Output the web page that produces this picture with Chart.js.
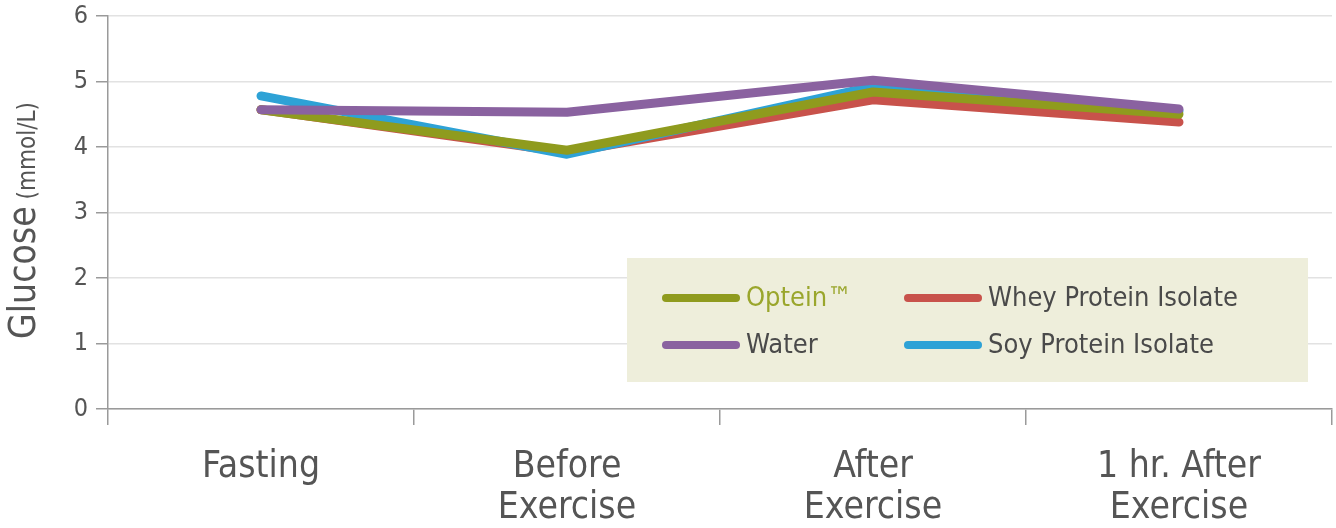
<!DOCTYPE html>
<html>
<head>
<meta charset="utf-8">
<script src="https://cdn.jsdelivr.net/npm/chart.js@4/dist/chart.umd.min.js"></script>
<style>
  html, body { margin: 0; padding: 0; background: #fff; }
  #wrap { width: 1336px; height: 528px; position: relative; }
</style>
</head>
<body>
<div id="wrap"><canvas id="c" width="1336" height="528"></canvas></div>
<script>
const categories = [["Fasting"], ["Before", "Exercise"], ["After", "Exercise"], ["1 hr. After", "Exercise"]];
const yTicks = [0, 1, 2, 3, 4, 5, 6];
const seriesNames = ["Optein\u2122", "Whey Protein Isolate", "Water", "Soy Protein Isolate"];
const optein = [4.57, 3.95, 4.84, 4.50];
const whey = [4.57, 3.92, 4.72, 4.38];
const water = [4.57, 4.53, 5.02, 4.58];
const soy = [4.78, 3.89, 4.92, 4.55];

const FONT = '"DejaVu Sans Condensed", "Liberation Sans Narrow", "Liberation Sans", sans-serif';
const colors = { optein: '#8f9b1e', whey: '#c8524b', water: '#8a62a0', soy: '#2ea2d6' };

const yTitlePlugin = {
  id: 'yTitle',
  afterDraw(chart) {
    const ctx = chart.ctx;
    ctx.save();
    ctx.translate(35, 339);
    ctx.rotate(-Math.PI / 2);
    ctx.fillStyle = '#555';
    ctx.textBaseline = 'alphabetic';
    ctx.textAlign = 'left';
    ctx.font = '37px ' + FONT;
    const t1 = 'Glucose';
    ctx.fillText(t1, 0, 0);
    const w = ctx.measureText(t1).width;
    ctx.font = '24px ' + FONT;
    ctx.fillText(' (mmol/L)', w, 0);
    ctx.restore();
  }
};

const legendPlugin = {
  id: 'boxLegend',
  afterDraw(chart) {
    const ctx = chart.ctx;
    const bx = 627, by = 258, bw = 681, bh = 124;
    ctx.save();
    ctx.fillStyle = '#eeeedb';
    ctx.fillRect(bx, by, bw, bh);
    const items = [
      { ds: 0, x: 662, y: 298, tc: '#9aa62c' },
      { ds: 1, x: 904, y: 298, tc: '#4a4a4a' },
      { ds: 2, x: 662, y: 345, tc: '#4a4a4a' },
      { ds: 3, x: 904, y: 345, tc: '#4a4a4a' }
    ];
    ctx.font = '27px ' + FONT;
    ctx.textBaseline = 'middle';
    ctx.textAlign = 'left';
    items.forEach(it => {
      const d = chart.data.datasets[it.ds];
      ctx.strokeStyle = d.borderColor;
      ctx.lineWidth = 8;
      ctx.lineCap = 'round';
      ctx.beginPath();
      ctx.moveTo(it.x + 4, it.y);
      ctx.lineTo(it.x + 74, it.y);
      ctx.stroke();
      ctx.fillStyle = it.tc;
      ctx.fillText(d.label, it.x + 84, it.y + 1);
    });
    ctx.restore();
  }
};

const lineDs = (label, data, color, order) => ({
  label, data, borderColor: color, backgroundColor: color,
  borderWidth: 9, pointRadius: 0, tension: 0, fill: false,
  borderCapStyle: 'round', borderJoinStyle: 'round', order
});

new Chart(document.getElementById('c'), {
  type: 'line',
  data: {
    labels: categories,
    datasets: [
      lineDs(seriesNames[0], optein, colors.optein, 1),
      lineDs(seriesNames[1], whey, colors.whey, 3),
      lineDs(seriesNames[2], water, colors.water, 0),
      lineDs(seriesNames[3], soy, colors.soy, 2)
    ]
  },
  options: {
    responsive: false,
    animation: false,
    layout: { padding: { top: 16, right: 4, left: 0, bottom: 0 } },
    plugins: { legend: { display: false }, tooltip: { enabled: false } },
    scales: {
      x: {
        offset: true,
        grid: { offset: true, drawOnChartArea: false, color: '#9a9a9a', tickLength: 16, lineWidth: 1.5 },
        border: { color: '#9a9a9a', width: 1.5 },
        ticks: { color: '#555', font: { family: FONT, size: 37, lineHeight: 1.1 }, padding: 22, maxRotation: 0, autoSkip: false },
        afterFit(s) { s.height = 119; }
      },
      y: {
        min: 0, max: 6,
        afterBuildTicks(s) { s.ticks = yTicks.map(v => ({ value: v })); },
        grid: { color: '#e2e2e2', tickColor: '#9a9a9a', tickLength: 12, lineWidth: 1.5 },
        border: { color: '#9a9a9a', width: 1.5 },
        ticks: { color: '#555', font: { family: FONT, size: 25 }, padding: 8 },
        afterFit(s) { s.width = 108; s.paddingTop = 0; s.paddingBottom = 0; }
      }
    }
  },
  plugins: [yTitlePlugin, legendPlugin]
});
</script>
</body>
</html>
